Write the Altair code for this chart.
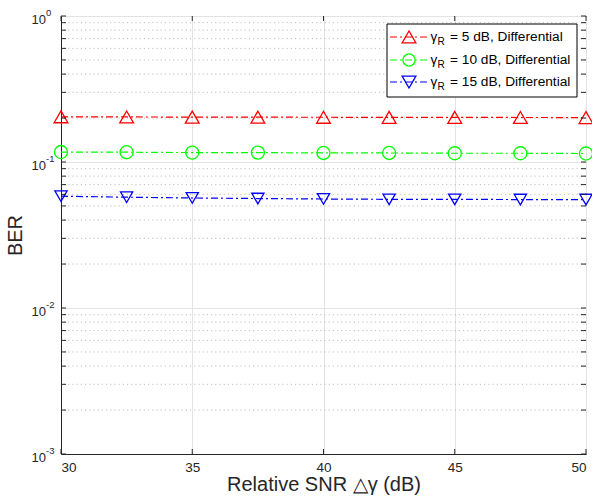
import altair as alt
import pandas as pd

# Relative SNR (dB) and simulated BER for each reference SNR
snr_db = [30, 32.5, 35, 37.5, 40, 42.5, 45, 47.5, 50]
ber_5db = [0.204, 0.2035, 0.203, 0.2028, 0.2025, 0.2022, 0.202, 0.2018, 0.2015]
ber_10db = [0.117, 0.1167, 0.116, 0.116, 0.1153, 0.1153, 0.1148, 0.1148, 0.1143]
ber_15db = [0.0583, 0.0574, 0.0567, 0.0562, 0.0558, 0.0555, 0.0555, 0.0553, 0.0553]

series_keys = ["5 dB", "10 dB", "15 dB"]
series_colors = ["#ff0000", "#00ff00", "#0000ff"]
series_shapes = ["triangle-up", "circle", "triangle-down"]
series_sizes = [190, 150, 190]
legend_rest = ["= 5 dB, Differential", "= 10 dB, Differential", "= 15 dB, Differential"]

x_ticks = [30, 35, 40, 45, 50]
decades = [1, 0.1, 0.01, 0.001]
decade_exps = ["0", "-1", "-2", "-3"]
minor_vals = [k * 10.0 ** e for e in (-3, -2, -1) for k in range(2, 10)]

W, H = 525, 438
AXIS_COLOR = "#262626"
FONT = "Liberation Sans"

rows = []
for key, vals in zip(series_keys, [ber_5db, ber_10db, ber_15db]):
    for s, b in zip(snr_db, vals):
        rows.append({"snr": s, "ber": b, "series": key})
df = pd.DataFrame(rows)

xscale = alt.Scale(domain=[30, 50], nice=False, zero=False)
yscale = alt.Scale(type="log", domain=[0.001, 1], nice=False)
color_scale = alt.Scale(domain=series_keys, range=series_colors)
shape_scale = alt.Scale(domain=series_keys, range=series_shapes)
size_scale = alt.Scale(domain=series_keys, range=series_sizes)

x_enc = alt.X(
    "snr:Q", scale=xscale,
    axis=alt.Axis(values=x_ticks, grid=True, gridColor="#e3e3e3", ticks=False,
                  labelFontSize=13.5, labelColor=AXIS_COLOR, labelPadding=6,
                  labelFont=FONT, domainColor=AXIS_COLOR,
                  title="Relative SNR \u25b3\u03b3 (dB)", titleFontSize=20,
                  titleFont=FONT, titleFontWeight="normal", titleColor=AXIS_COLOR,
                  titlePadding=1),
)
y_enc = alt.Y(
    "ber:Q", scale=yscale,
    axis=alt.Axis(values=decades, grid=True, gridColor="#e3e3e3", ticks=False,
                  labels=False, domainColor=AXIS_COLOR,
                  title="BER", titleFontSize=20, titleFont=FONT,
                  titleFontWeight="normal", titleColor=AXIS_COLOR, titlePadding=36),
)

# dotted minor grid for the log axis
minor_df = pd.DataFrame({"v": minor_vals})
minor_grid = alt.Chart(minor_df).mark_rule(
    color="#b8b8b8", strokeDash=[1.2, 3], strokeWidth=0.9
).encode(y=alt.Y("v:Q", scale=yscale))

base = alt.Chart(df)
lines = base.mark_line(strokeDash=[7, 3, 2, 3], strokeWidth=1.2).encode(
    x=x_enc, y=y_enc,
    color=alt.Color("series:N", scale=color_scale, legend=None),
    detail="series:N",
)
points = base.mark_point(filled=False, strokeWidth=1.3, opacity=1).encode(
    x=alt.X("snr:Q", scale=xscale),
    y=alt.Y("ber:Q", scale=yscale),
    color=alt.Color("series:N", scale=color_scale, legend=None),
    shape=alt.Shape("series:N", scale=shape_scale, legend=None),
    size=alt.Size("series:N", scale=size_scale, legend=None),
)

# inward ticks on all four sides
ytick_df = pd.DataFrame({"v": decades + minor_vals})
xtick_df = pd.DataFrame({"v": x_ticks})
tick_style = dict(color=AXIS_COLOR, strokeWidth=1)
yticks_l = alt.Chart(ytick_df).mark_rule(**tick_style).encode(
    y=alt.Y("v:Q", scale=yscale), x=alt.value(0), x2=alt.value(5))
yticks_r = alt.Chart(ytick_df).mark_rule(**tick_style).encode(
    y=alt.Y("v:Q", scale=yscale), x=alt.value(W - 5), x2=alt.value(W))
xticks_b = alt.Chart(xtick_df).mark_rule(**tick_style).encode(
    x=alt.X("v:Q", scale=xscale), y=alt.value(H - 5), y2=alt.value(H))
xticks_t = alt.Chart(xtick_df).mark_rule(**tick_style).encode(
    x=alt.X("v:Q", scale=xscale), y=alt.value(0), y2=alt.value(5))

# y tick labels written as 10 with a raised exponent
ylab_df = pd.DataFrame({"v": decades, "e": decade_exps})
ylab_base = alt.Chart(ylab_df).mark_text(
    align="right", baseline="middle", dy=3.5, fontSize=13, font=FONT, color=AXIS_COLOR
).encode(y=alt.Y("v:Q", scale=yscale), x=alt.value(-15), text=alt.value("10"))
ylab_exp = alt.Chart(ylab_df).mark_text(
    align="left", baseline="middle", dy=-3, fontSize=9.5, font=FONT, color=AXIS_COLOR
).encode(y=alt.Y("v:Q", scale=yscale), x=alt.value(-15), text="e:N")

# legend box
one = pd.DataFrame({"k": [0]})
legend_layers = [
    alt.Chart(one).mark_rect(fill="white", stroke="#000000", strokeWidth=1).encode(
        x=alt.value(326), x2=alt.value(516), y=alt.value(8), y2=alt.value(81))
]
row_y = [21, 44, 66]
for i in range(3):
    yy = row_y[i]
    legend_layers += [
        alt.Chart(one).mark_rule(color=series_colors[i], strokeDash=[7, 3, 2, 3],
                                 strokeWidth=1.2).encode(
            x=alt.value(329), x2=alt.value(367), y=alt.value(yy)),
        alt.Chart(one).mark_point(filled=False, strokeWidth=1.3, size=series_sizes[i],
                                  opacity=1, color=series_colors[i],
                                  shape=series_shapes[i]).encode(
            x=alt.value(348), y=alt.value(yy)),
        alt.Chart(one).mark_text(align="left", baseline="middle", fontSize=13.5,
                                 font=FONT, color="#000000").encode(
            x=alt.value(369.5), y=alt.value(yy), text=alt.value("\u03b3")),
        alt.Chart(one).mark_text(align="left", baseline="middle", fontSize=10,
                                 font=FONT, color="#000000").encode(
            x=alt.value(376.5), y=alt.value(yy + 5), text=alt.value("R")),
        alt.Chart(one).mark_text(align="left", baseline="middle", fontSize=13.7,
                                 font=FONT, color="#000000").encode(
            x=alt.value(389), y=alt.value(yy), text=alt.value(legend_rest[i])),
    ]

chart = alt.layer(
    minor_grid, lines, points, yticks_l, yticks_r, xticks_b, xticks_t,
    ylab_base, ylab_exp, *legend_layers
).properties(
    width=W, height=H,
    autosize=alt.AutoSizeParams(type="none"),
    padding={"left": 61, "top": 16, "right": 6, "bottom": 48},
    background="white",
).configure_view(stroke=AXIS_COLOR, strokeWidth=1)

chart.save("out.html", embed_options={"renderer": "svg", "actions": False})
